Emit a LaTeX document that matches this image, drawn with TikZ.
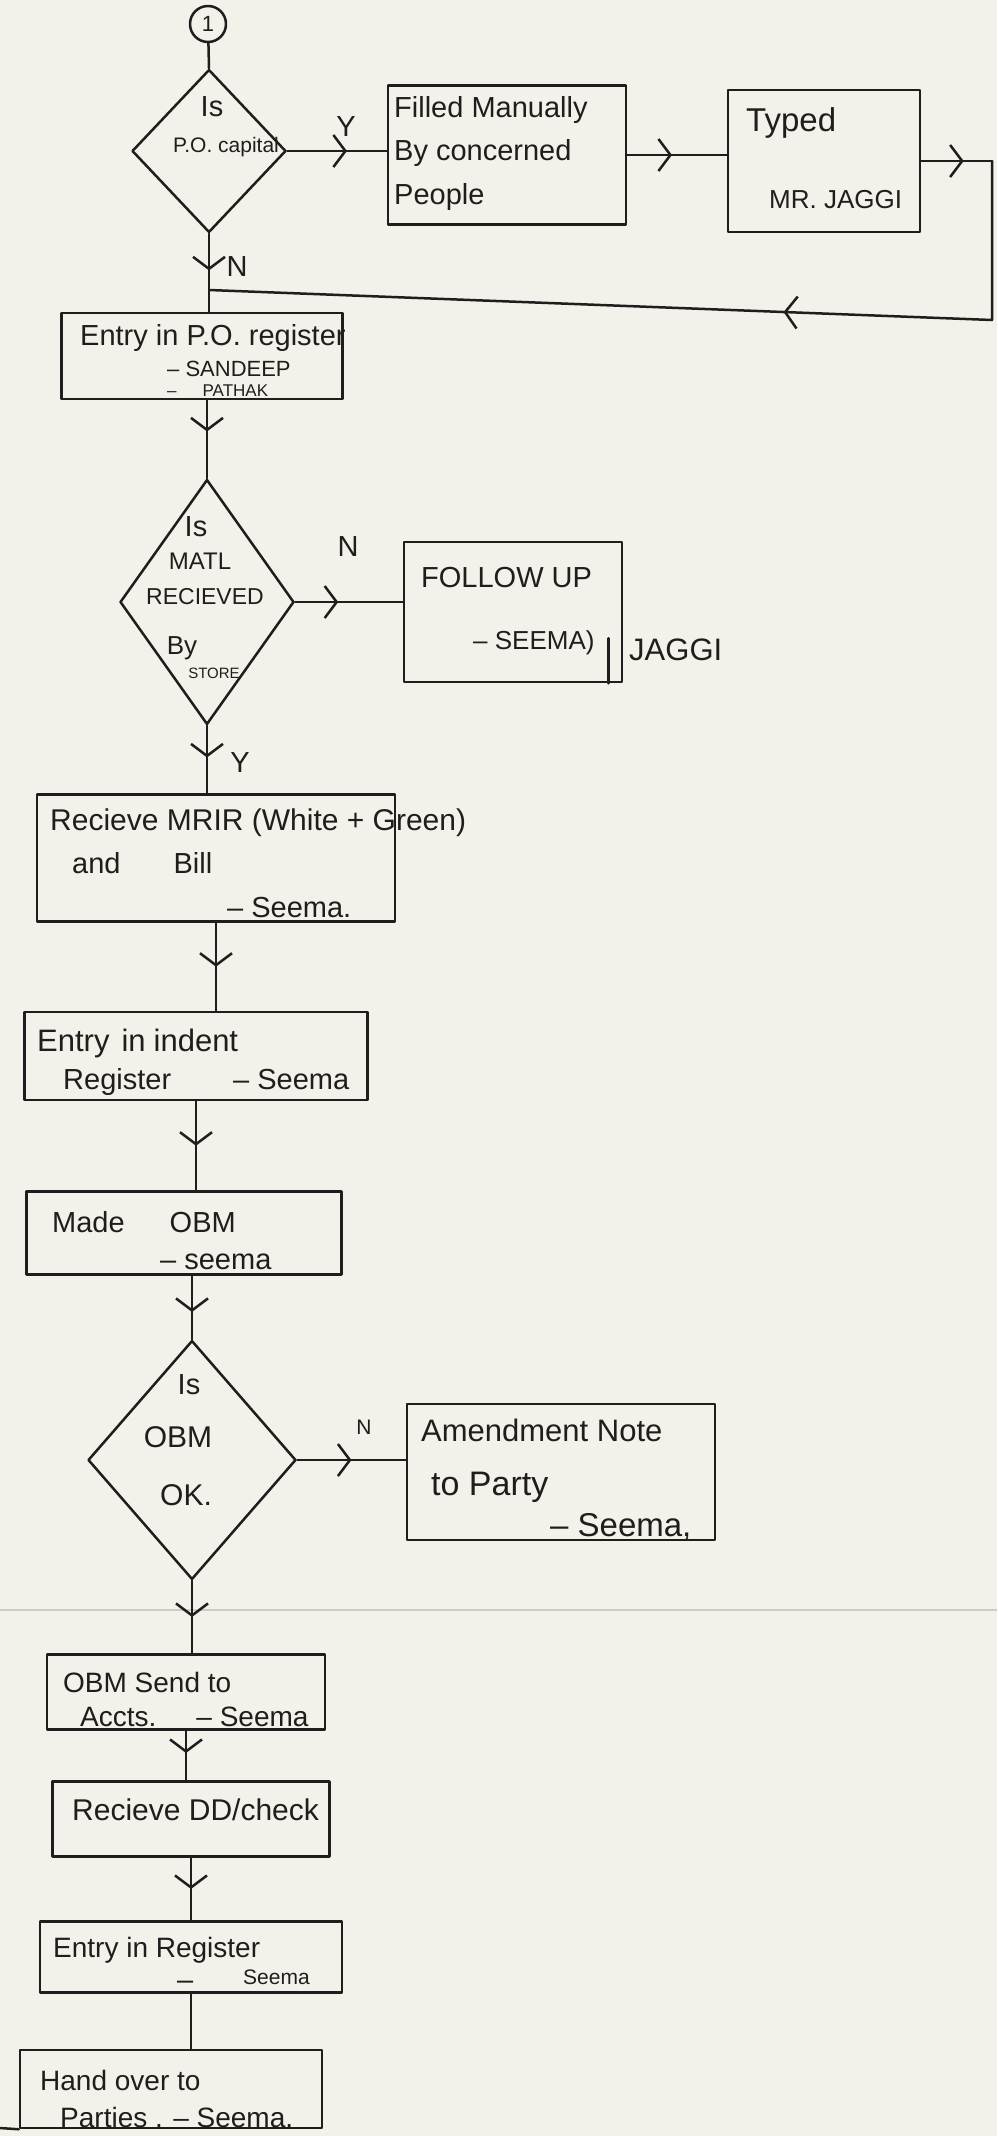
\documentclass[tikz,border=0pt]{standalone}
\usepackage{fontspec}
\setmainfont{Liberation Sans}
\usetikzlibrary{shapes.geometric,arrows.meta,decorations.markings}
\definecolor{paper}{RGB}{243,241,233}
\definecolor{inkc}{RGB}{30,30,30}
\definecolor{fold}{RGB}{205,206,196}
\tikzset{
  ink/.style={draw=inkc, line width=2.5pt, line cap=round, line join=round},
  box/.style={ink, rectangle, inner sep=0pt},
  decision/.style={ink, diamond, inner sep=0pt},
  hand/.style={text=inkc, inner sep=0pt, font=\fontsize{29}{34}\selectfont},
  handsm/.style={hand, font=\fontsize{21}{24}\selectfont},
  handbig/.style={hand, font=\fontsize{33}{38}\selectfont},
  flow/.style={ink, postaction={decorate}, decoration={markings,
      mark=at position #1 with {\arrow[inkc, line width=2.5pt]{Straight Barb[length=12pt,width=32pt]}}}},
  flow/.default=0.5,
}
\begin{document}
\begin{tikzpicture}[x=1pt, y=-1pt]
  \useasboundingbox (0,0) rectangle (997,2136);
  \fill[paper] (0,0) rectangle (997,2136);
  \draw[fold, line width=1.5pt] (0,1610) -- (997,1610);

  % start and first question
  \node[ink, circle, minimum size=36pt, inner sep=0pt, hand, font=\fontsize{22}{24}\selectfont] (start) at (208,24) {1};
  \node[decision, minimum width=154pt, minimum height=163pt] (d1) at (209,151) {};
  \node[hand] (d1a) at (212,107) {Is};
  \node[handsm] (d1b) at (226,147) {P.O. capital};

  \node[box, minimum width=238pt, minimum height=139pt] (filled) at (507,155) {};
  \node[hand, anchor=west] (filled-a) at (394,110) {Filled Manually};
  \node[hand, anchor=west] (filled-b) at (394,153) {By concerned};
  \node[hand, anchor=west] (filled-c) at (394,197) {People};

  \node[box, minimum width=192pt, minimum height=142pt] (typed) at (824,161) {};
  \node[handbig, anchor=west] (typed-a) at (746,123) {Typed};
  \node[hand, anchor=west, font=\fontsize{26}{30}\selectfont] (typed-b) at (769,200) {MR. JAGGI};

  \coordinate (rc1) at (typed.east -| 992,0);
  \coordinate (rc2) at (992,320);
  \coordinate (join) at (d1.south |- 0,290);

  \draw[ink] (start) -- (d1.north);
  \draw[flow=0.6] (d1.east) -- (d1.east -| filled.west);
  \node[hand] (d1y) at (346,127) {Y};
  \draw[flow=0.45] (filled.east) -- (filled.east -| typed.west);
  \draw[flow=0.6] (typed.east) -- (rc1);
  \draw[flow=0.39] (rc1) -- (rc2) -- (join);

  % P.O. register
  \node[box, minimum width=281pt, minimum height=86pt] (po) at (202,356) {};
  \node[hand, anchor=west] (po-a) at (80,338) {Entry in P.O. register};
  \node[hand, anchor=west, font=\fontsize{22}{26}\selectfont] (po-b) at (167,369) {– SANDEEP};
  \node[hand, anchor=west, font=\fontsize{17}{20}\selectfont] (po-c) at (167,391) {–\hspace{26pt}PATHAK};

  \draw[flow=0.47] (d1.south) -- (d1.south |- po.north);
  \node[hand] (d1n) at (237,267) {N};

  % material received
  \node[decision, minimum width=174pt, minimum height=245pt] (d2) at (207,602) {};
  \node[hand] (d2a) at (196,527) {Is};
  \node[hand, font=\fontsize{24}{28}\selectfont] (d2b) at (200,561) {MATL};
  \node[hand, font=\fontsize{23}{28}\selectfont] (d2c) at (205,597) {RECIEVED};
  \node[hand, font=\fontsize{26}{30}\selectfont] (d2d) at (182,648) {By};
  \node[hand, font=\fontsize{15}{18}\selectfont] (d2e) at (214,673) {STORE};
  \draw[flow=0.4] (d2.north |- po.south) -- (d2.north);

  \node[box, minimum width=218pt, minimum height=140pt] (follow) at (513,612) {};
  \node[hand, anchor=west] (follow-a) at (421,578) {FOLLOW UP};
  \node[hand, anchor=west, font=\fontsize{26}{30}\selectfont] (follow-b) at (473,643) {– SEEMA)};
  \draw[ink] ([xshift=-15pt]follow.south east) -- ++(0,-45);
  \node[hand, anchor=west, font=\fontsize{31}{34}\selectfont] (follow-c) at (629,650) {JAGGI};
  \draw[flow=0.4] (d2.east) -- (d2.east -| follow.west);
  \node[hand] (d2n) at (348,547) {N};

  % receipt of MRIR
  \node[box, minimum width=358pt, minimum height=127pt] (mrir) at (216,858) {};
  \node[hand, anchor=west, font=\fontsize{30}{34}\selectfont] (mrir-a) at (50,823) {Recieve MRIR (White + Green)};
  \node[hand, anchor=west] (mrir-b) at (72,863) {and\hspace{53pt}Bill};
  \node[hand, anchor=west] (mrir-c) at (227,908) {– Seema.};
  \draw[flow=0.47] (d2.south) -- (d2.south |- mrir.north);
  \node[hand] (d2y) at (240,763) {Y};

  \node[box, minimum width=343pt, minimum height=88pt] (indent) at (196,1056) {};
  \node[hand, anchor=west, font=\fontsize{31}{34}\selectfont] (indent-a) at (37,1043) {Entry\hspace{12pt}in\hspace{8pt}indent};
  \node[hand, anchor=west] (indent-b) at (63,1082) {Register\hspace{62pt}– Seema};
  \draw[flow] (mrir.south) -- (mrir.south |- indent.north);

  \node[box, minimum width=315pt, minimum height=83pt] (madeobm) at (184,1233) {};
  \node[hand, anchor=west] (madeobm-a) at (52,1222) {Made\hspace{45pt}OBM};
  \node[hand, anchor=west] (madeobm-b) at (160,1262) {– seema};
  \draw[flow] (indent.south) -- (indent.south |- madeobm.north);

  % OBM check
  \node[decision, minimum width=208pt, minimum height=239pt] (d3) at (192,1460) {};
  \node[hand] (d3a) at (189,1385) {Is};
  \node[hand, font=\fontsize{30}{34}\selectfont] (d3b) at (178,1437) {OBM};
  \node[hand, font=\fontsize{30}{34}\selectfont] (d3c) at (186,1495) {OK.};
  \draw[flow=0.57] (madeobm.south -| d3.north) -- (d3.north);

  \node[box, minimum width=308pt, minimum height=136pt] (amend) at (561,1472) {};
  \node[hand, anchor=west, font=\fontsize{31}{34}\selectfont] (amend-a) at (421,1430) {Amendment Note};
  \node[hand, anchor=west, font=\fontsize{34}{38}\selectfont] (amend-b) at (431,1487) {to Party};
  \node[hand, anchor=west, font=\fontsize{33}{36}\selectfont] (amend-c) at (550,1527) {– Seema,};
  \draw[flow] (d3.east) -- (d3.east -| amend.west);
  \node[handsm] (d3n) at (364,1427) {N};

  % accounts and parties
  \node[box, minimum width=278pt, minimum height=75pt] (obmsend) at (186,1692) {};
  \node[hand, anchor=west, font=\fontsize{28}{32}\selectfont] (obmsend-a) at (63,1682) {OBM Send to};
  \node[hand, anchor=west, font=\fontsize{28}{32}\selectfont] (obmsend-b) at (80,1717) {Accts.\hspace{40pt}– Seema};
  \draw[flow] (d3.south) -- (d3.south |- obmsend.north);

  \node[box, minimum width=277pt, minimum height=75pt] (dd) at (191,1819) {};
  \node[hand, anchor=west, font=\fontsize{30}{34}\selectfont] (dd-a) at (72,1810) {Recieve DD/check};
  \draw[flow=0.45] (obmsend.south) -- (obmsend.south |- dd.north);

  \node[box, minimum width=302pt, minimum height=71pt] (register) at (191,1957) {};
  \node[hand, anchor=west, font=\fontsize{28}{32}\selectfont] (register-a) at (53,1950) {Entry in Register};
  \node[hand, anchor=west] (register-b) at (177,1985) {–};
  \node[handsm, anchor=west] (register-c) at (243,1977) {Seema};
  \draw[flow] (dd.south) -- (dd.south |- register.north);

  \node[box, minimum width=302pt, minimum height=78pt] (handover) at (171,2089) {};
  \node[hand, anchor=west, font=\fontsize{28}{32}\selectfont] (handover-a) at (40,2080) {Hand over to};
  \node[hand, anchor=west, font=\fontsize{28}{32}\selectfont] (handover-b) at (60,2117) {Parties . – Seema.};
  \draw[ink] (handover.south west) -- (0,2128);
  \draw[ink] (register.south) -- (register.south |- handover.north);
\end{tikzpicture}
\end{document}
